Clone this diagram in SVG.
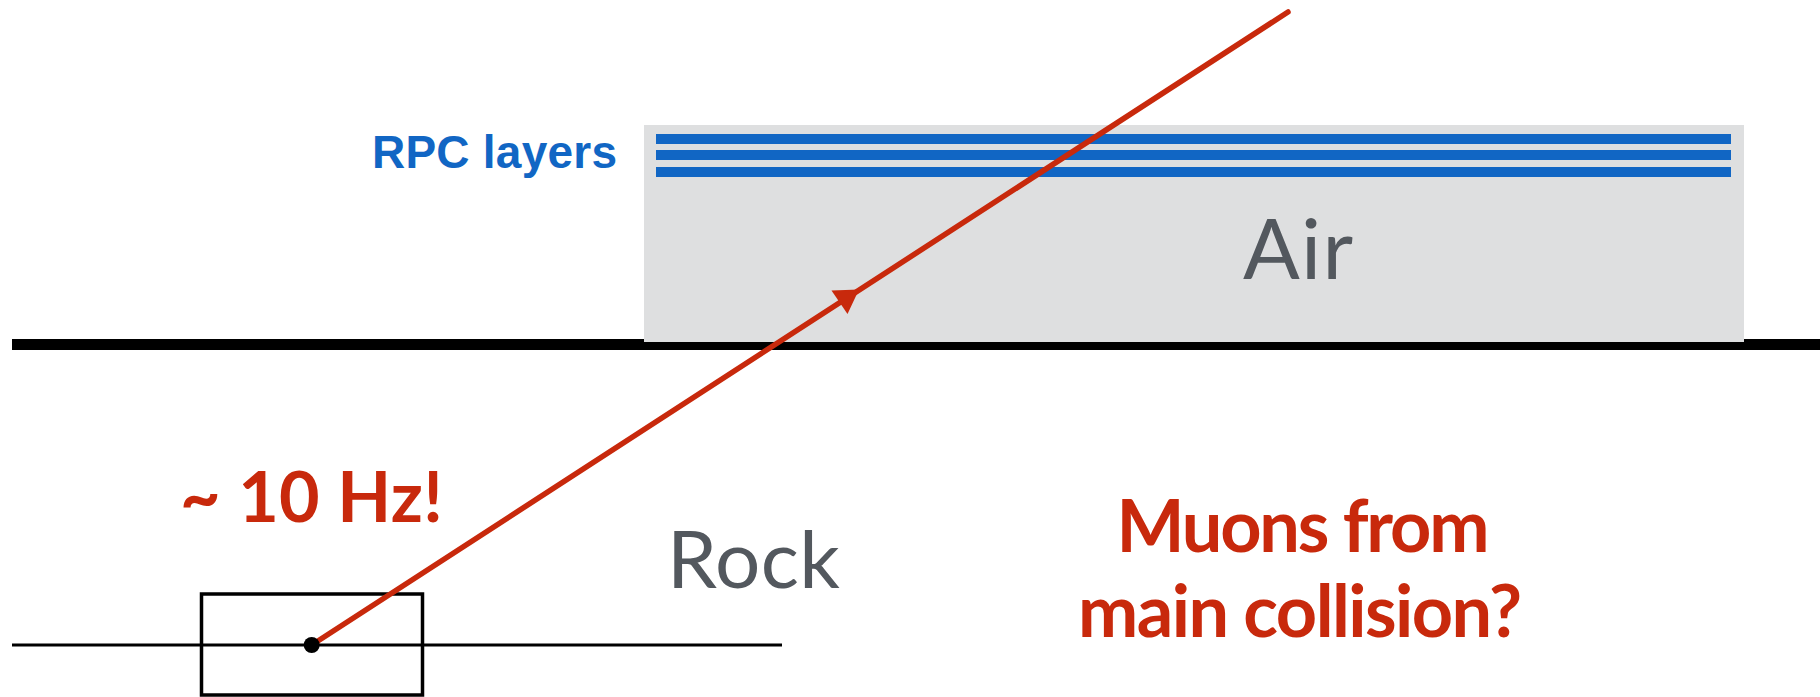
<svg xmlns="http://www.w3.org/2000/svg" width="1820" height="697" viewBox="0 0 1820 697">
  <style>
    .gill { font-family: Lato, "Open Sans", "Noto Sans", sans-serif; }
    .red { fill: #C8290C; font-weight: bold; }
    .grey { fill: #53585E; }
    .rpc { stroke: #1166C4; stroke-width: 10; }
  </style>
  <rect width="1820" height="697" fill="#FFFFFF"/>
  <g id="ground">
    <line x1="12" y1="344.5" x2="1820" y2="344.5" stroke="#000000" stroke-width="11"/>
  </g>
  <g id="air">
    <rect x="644" y="125" width="1100" height="217" fill="#DEDFE0"/>
    <text class="gill grey" x="1298" y="279" font-size="84" text-anchor="middle" textLength="110">Air</text>
  </g>
  <g id="rpc-layers">
    <line class="rpc" x1="656" y1="139" x2="1731" y2="139"/>
    <line class="rpc" x1="656" y1="155" x2="1731" y2="155"/>
    <line class="rpc" x1="656" y1="172" x2="1731" y2="172"/>
    <text x="372" y="168" font-family="'Liberation Sans', Arial, sans-serif" font-weight="bold" font-size="46" fill="#1166C4" textLength="245">RPC layers</text>
  </g>
  <g id="beamline">
    <line x1="12" y1="645" x2="782" y2="645" stroke="#000000" stroke-width="3"/>
  </g>
  <g id="detector">
    <rect x="201.5" y="594" width="221" height="101" fill="none" stroke="#000000" stroke-width="3.5"/>
  </g>
  <g id="rock">
    <text class="gill grey" x="667" y="588" font-size="80" textLength="173">Rock</text>
  </g>
  <g id="rate">
    <text class="gill red" x="180" y="522" font-size="70" textLength="263">~ 10 Hz!</text>
  </g>
  <g id="question">
    <text class="gill red" x="1303" y="552" font-size="72" text-anchor="middle" textLength="373">Muons from</text>
    <text class="gill red" x="1300" y="637" font-size="72" text-anchor="middle" textLength="444">main collision?</text>
  </g>
  <g id="connectors">
    <line x1="311.7" y1="645" x2="1288" y2="12" stroke="#C8290C" stroke-width="5.5" stroke-linecap="round"/>
    <polygon points="859,289.5 831.5,290.5 847.5,314" fill="#C8290C"/>
  </g>
  <g id="vertex">
    <circle cx="311.7" cy="645" r="8" fill="#000000"/>
  </g>
</svg>
